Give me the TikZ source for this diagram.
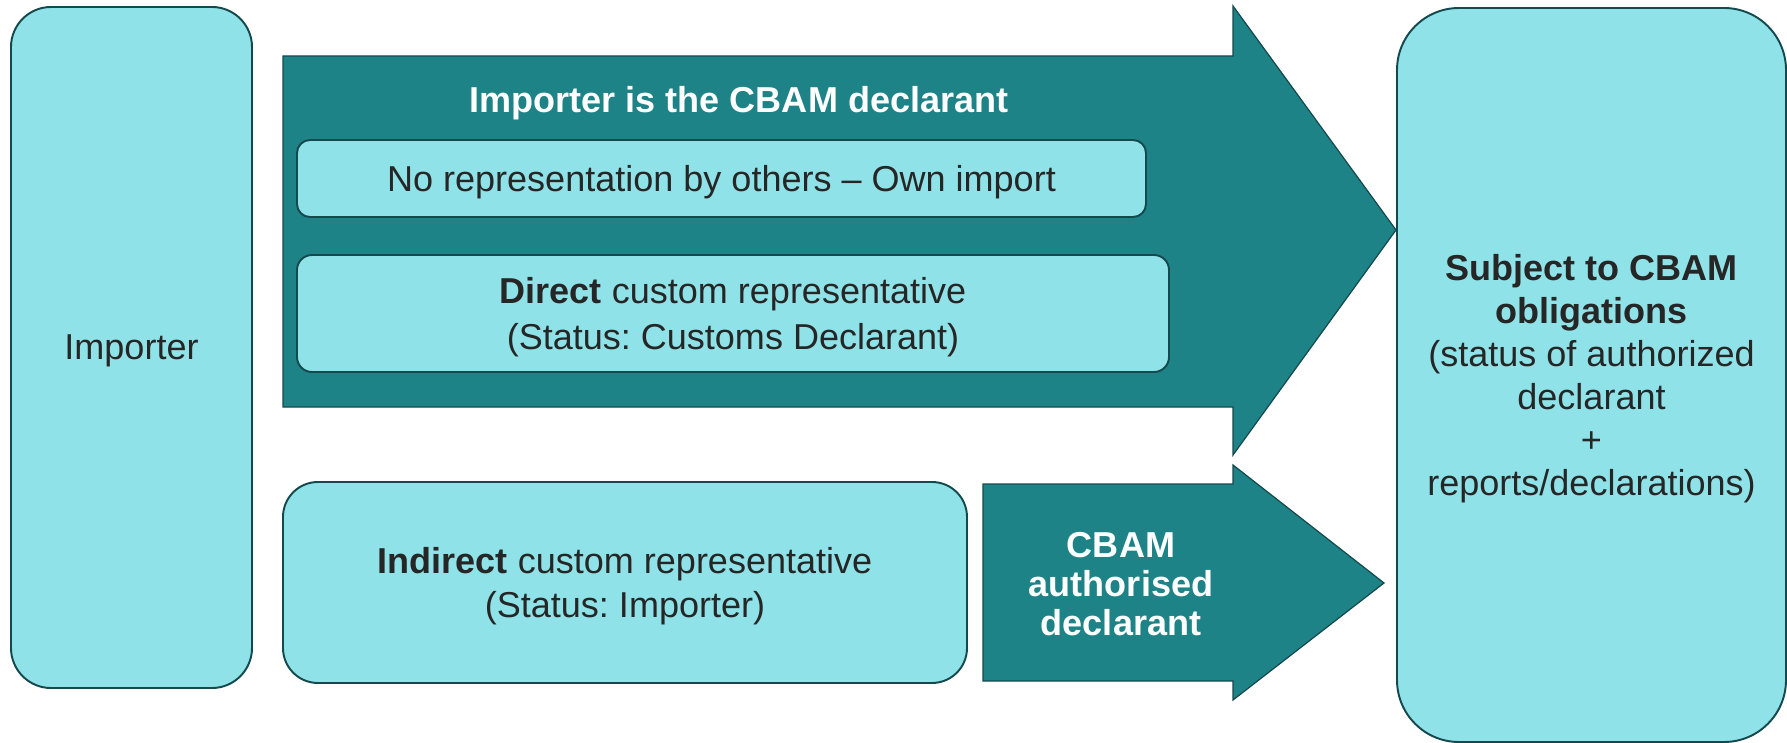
\documentclass[tikz,border=0pt]{standalone}
\usepackage{fontspec}
\setmainfont{Liberation Sans}
\usepackage{xcolor}
\usepackage{tikz}
\definecolor{lcyan}{HTML}{8FE3E8}
\definecolor{dteal}{HTML}{1E8387}
\definecolor{dline}{HTML}{14494D}
\definecolor{dtext}{HTML}{262626}
\tikzset{box/.style={rectangle,draw=dline,line width=1.1pt,fill=lcyan,text=dtext,align=center,inner sep=0pt,outer sep=0pt,text depth=-1mm,font=\fontsize{20.5}{24.5}\selectfont},
  arr/.style={draw=dline,line width=0.7pt,fill=dteal},
  lbl/.style={text=white,align=center,font=\bfseries\fontsize{20.5}{22}\selectfont}}
\frenchspacing

\begin{document}
\begin{tikzpicture}[x=0.2mm,y=-0.2mm]
    \useasboundingbox (0,0) rectangle (1787,743);

    % block arrows
    \draw[arr] (283,56) -- (1233,56) -- (1233,6) -- (1396,230) -- (1233,455) -- (1233,407) -- (283,407) -- cycle;
    \draw[arr] (983,484) -- (1233,484) -- (1233,465) -- (1384,583) -- (1233,700) -- (1233,681) -- (983,681) -- cycle;

    \node[box,rounded corners=8mm,minimum width=48.2mm,minimum height=136.2mm] (i) at (131.5,347.5) {Importer};
    \node[lbl] (t) at (739,103) {Importer is the CBAM declarant};
    \node[box,rounded corners=2.6mm,minimum width=169.8mm,minimum height=15.4mm] (o) at (721.5,178.5) {No representation by others -- Own import};
    \node[box,rounded corners=3mm,minimum width=174.4mm,minimum height=23.4mm,font=\fontsize{20.5}{26.3}\selectfont] (d) at (733,313.5) {\textbf{Direct} custom representative\\(Status: Customs Declarant)};
    \node[box,rounded corners=7mm,minimum width=136.8mm,minimum height=40.2mm,font=\fontsize{20.5}{25}\selectfont] (n) at (625,582.5) {\textbf{Indirect} custom representative\\(Status: Importer)};
    \node[lbl] (c) at (1121,584) {CBAM\\authorised\\declarant};
    \node[box,rounded corners=12.4mm,minimum width=77.8mm,minimum height=146.8mm] (s) at (1591.5,375) {\textbf{Subject to CBAM}\\\textbf{obligations}\\(status of authorized\\declarant\\+\\reports/declarations)};
\end{tikzpicture}
\end{document}
